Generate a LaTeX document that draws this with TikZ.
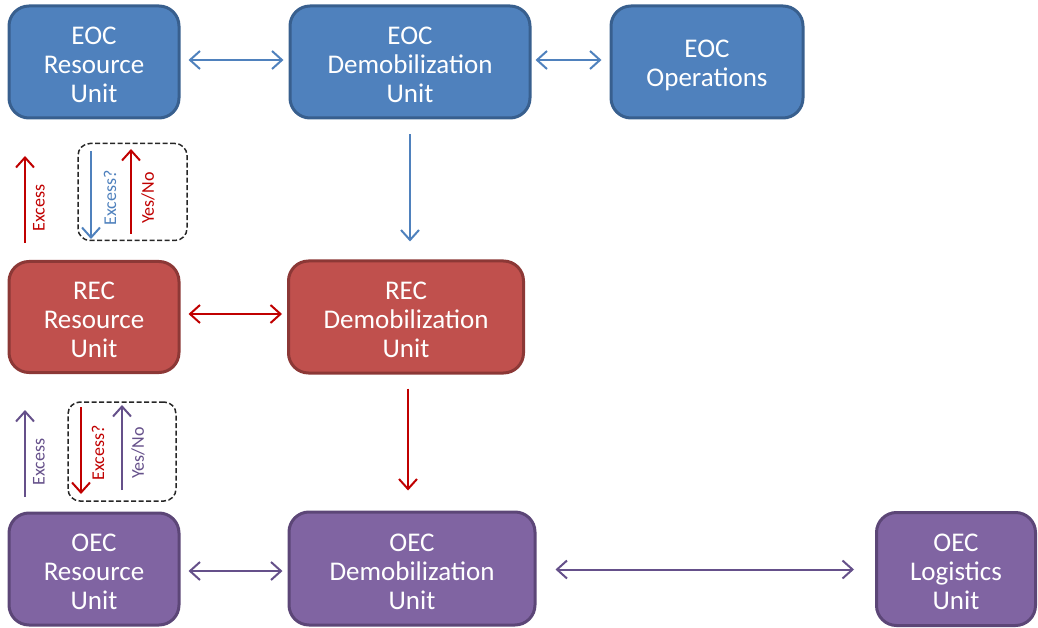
\documentclass[tikz,border=0pt]{standalone}
\usepackage{fontspec}
\setmainfont{Carlito}
\usetikzlibrary{arrows.meta,positioning,calc}
\definecolor{bfill}{HTML}{4F81BD}
\definecolor{bdraw}{HTML}{385F8E}
\definecolor{rfill}{HTML}{C0504D}
\definecolor{rdraw}{HTML}{8C3836}
\definecolor{pfill}{HTML}{8064A2}
\definecolor{pdraw}{HTML}{5C4677}
\definecolor{barrow}{HTML}{4F81BD}
\definecolor{rarrow}{HTML}{C00000}
\definecolor{parrow}{HTML}{65508A}
\tikzset{
  unit/.style={rounded corners=20pt, line width=3pt, inner sep=0pt},
  bluebox/.style={unit, fill=bfill, draw=bdraw},
  redbox/.style={unit, fill=rfill, draw=rdraw},
  purpbox/.style={unit, fill=pfill, draw=pdraw},
  unittext/.style={text=white, align=center, font=\fontsize{27}{29}\selectfont, inner sep=0pt},
  conn/.style={line width=2pt, {Straight Barb[length=10pt,width=18pt,line width=2pt]}-{Straight Barb[length=10pt,width=18pt,line width=2pt]}},
  oneway/.style={line width=2pt, -{Straight Barb[length=10pt,width=18pt,line width=2pt]}},
  sidelbl/.style={rotate=90, font=\fontsize{18}{20}\selectfont, inner sep=0pt},
  dashbox/.style={draw=black!85, dash pattern=on 5pt off 2.5pt, line width=1.5pt, rounded corners=12pt}
}
\begin{document}
\begin{tikzpicture}[x=1pt,y=-1pt]
\useasboundingbox (0,0) rectangle (1038,628);
% boxes
\node[bluebox, minimum width=170pt, minimum height=112pt] (eocres) at (94,62) {};
\node[bluebox, minimum width=240pt, minimum height=112pt] (eocdem) at (410,62) {};
\node[bluebox, minimum width=192pt, minimum height=112pt] (eocops) at (707,62) {};
\node[redbox, minimum width=170pt, minimum height=111pt] (recres) at (94,317) {};
\node[redbox, minimum width=235pt, minimum height=112pt] (recdem) at (406,317) {};
\node[purpbox, minimum width=170pt, minimum height=112pt] (oecres) at (94,569) {};
\node[purpbox, minimum width=246pt, minimum height=113pt] (oecdem) at (412,568.5) {};
\node[purpbox, minimum width=159pt, minimum height=113pt] (oeclog) at (956,569) {};
% box texts
\node[unittext] (eocrest) at ([yshift=-3pt]eocres.center) {EOC\\Resource\\Unit};
\node[unittext] (eocdemt) at ([yshift=-3pt]eocdem.center) {EOC\\Demobilization\\Unit};
\node[unittext] (eocopst) at ([yshift=-3pt]eocops.center) {EOC\\Operations};
\node[unittext] (recrest) at ([yshift=-3pt]recres.center) {REC\\Resource\\Unit};
\node[unittext] (recdemt) at ([yshift=-3pt]recdem.center) {REC\\Demobilization\\Unit};
\node[unittext] (oecrest) at ([yshift=-3pt]oecres.center) {OEC\\Resource\\Unit};
\node[unittext] (oecdemt) at ([yshift=-3pt]oecdem.center) {OEC\\Demobilization\\Unit};
\node[unittext] (oeclogt) at ([yshift=-3pt]oeclog.center) {OEC\\Logistics\\Unit};
% horizontal connectors
\draw[conn, draw=barrow, shorten <=8pt, shorten >=5pt] ([yshift=2pt]eocres.east) -- ([yshift=2pt]eocres.east -| eocdem.west);
\draw[conn, draw=barrow, shorten <=4pt, shorten >=8pt] ([yshift=2pt]eocdem.east) -- ([yshift=2pt]eocdem.east -| eocops.west);
\draw[conn, draw=rarrow, shorten <=8pt, shorten >=5pt] ([yshift=3pt]recres.east) -- ([yshift=3pt]recres.east -| recdem.west);
\draw[conn, draw=parrow, shorten <=8pt, shorten >=5pt] ([yshift=-2pt]oecres.east) -- ([yshift=-2pt]oecres.east -| oecdem.west);
\draw[conn, draw=parrow, shorten <=19pt, shorten >=21pt] ([yshift=-1pt]oecdem.east) -- ([yshift=-1pt]oecdem.east -| oeclog.west);
% vertical connectors
\draw[oneway, draw=barrow, shorten <=15pt, shorten >=18pt] (eocdem.south) -- (eocdem.south |- recdem.north);
\draw[oneway, draw=rarrow, shorten <=14pt, shorten >=20pt] ([xshift=2pt]recdem.south) -- ([xshift=2pt]recdem.south |- oecdem.north);
% upper left arrows
\coordinate (ea1) at (25,243);
\coordinate (ea2) at (25,156);
\draw[oneway, draw=rarrow] (ea1) -- (ea2);
\node[sidelbl, text=rarrow] (elbl1) at (39,208) {Excess};
\node[dashbox, minimum width=109pt, minimum height=97pt] (dbox1) at (132.5,192) {};
\coordinate (qa1) at (91,151);
\coordinate (qa2) at (91,239);
\draw[oneway, draw=barrow] (qa1) -- (qa2);
\node[sidelbl, text=barrow] (qlbl1) at (110,198) {Excess?};
\coordinate (ya1) at (131,234);
\coordinate (ya2) at (131,149);
\draw[oneway, draw=rarrow] (ya1) -- (ya2);
\node[sidelbl, text=rarrow] (ylbl1) at (148,198) {Yes/No};
% lower left arrows
\coordinate (eb1) at (25,497);
\coordinate (eb2) at (25,410);
\draw[oneway, draw=parrow] (eb1) -- (eb2);
\node[sidelbl, text=parrow] (elbl2) at (39,462) {Excess};
\node[dashbox, minimum width=108pt, minimum height=99pt] (dbox2) at (122,451.5) {};
\coordinate (qb1) at (81,407);
\coordinate (qb2) at (81,494);
\draw[oneway, draw=rarrow] (qb1) -- (qb2);
\node[sidelbl, text=rarrow] (qlbl2) at (98,453) {Excess?};
\coordinate (yb1) at (122,490);
\coordinate (yb2) at (122,405);
\draw[oneway, draw=parrow] (yb1) -- (yb2);
\node[sidelbl, text=parrow] (ylbl2) at (138,453) {Yes/No};
\end{tikzpicture}
\end{document}
